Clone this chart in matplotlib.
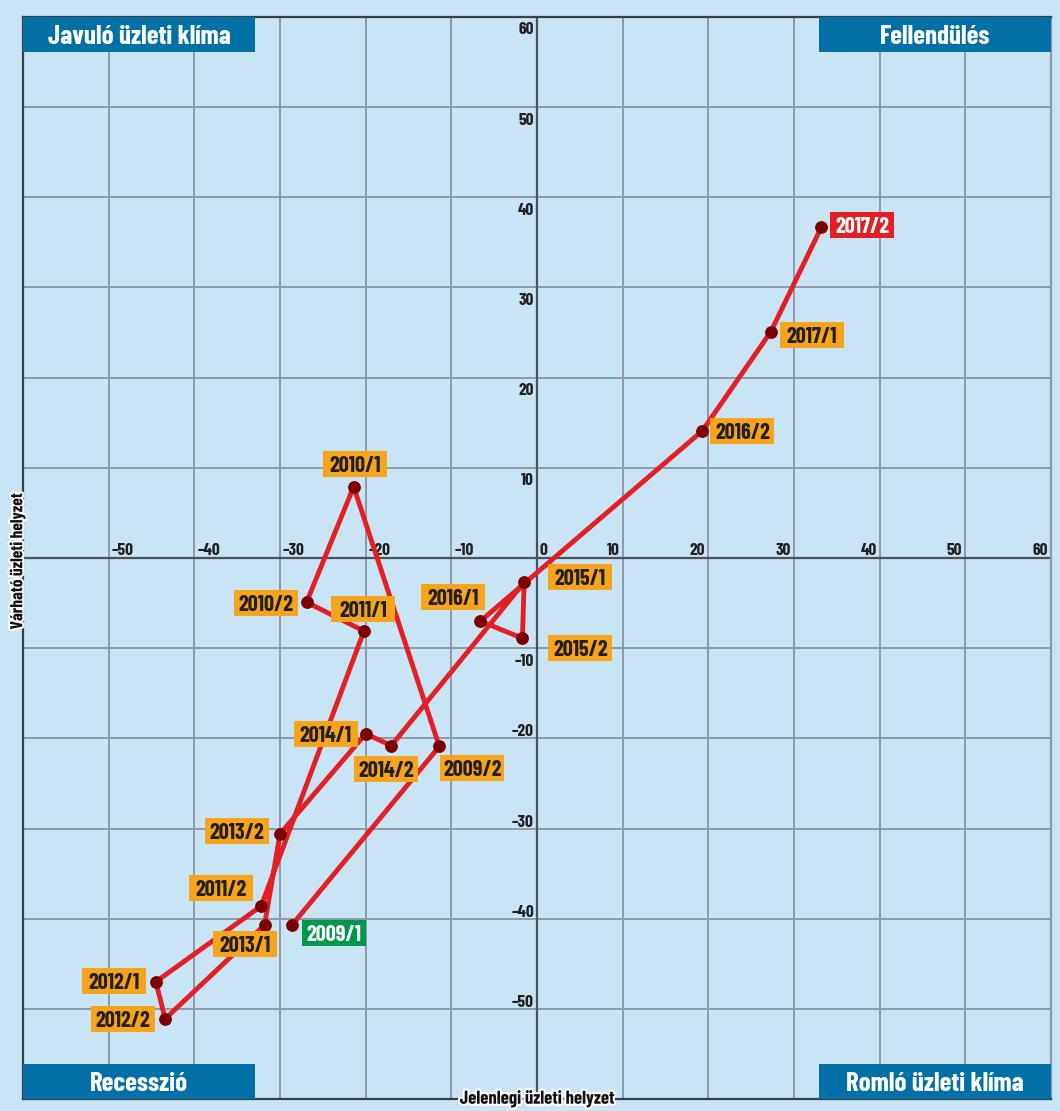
import matplotlib
matplotlib.use("Agg")
import os
import matplotlib.pyplot as plt
from matplotlib import font_manager
from matplotlib.ft2font import LOAD_NO_HINTING
from matplotlib.patches import Rectangle
from matplotlib.transforms import Affine2D
import matplotlib.patheffects as pe

# ---- data ----
periods = ['2009/1', '2009/2', '2010/1', '2010/2', '2011/1', '2011/2',
           '2012/1', '2012/2', '2013/1', '2013/2', '2014/1', '2014/2',
           '2015/1', '2015/2', '2016/1', '2016/2', '2017/1', '2017/2']
current = [-28.6, -11.4, -21.4, -26.9, -20.2, -32.2, -44.5, -43.4, -31.8,
           -30.0, -20.0, -17.0, -1.5, -1.7, -6.6, 19.3, 27.3, 33.2]
expected = [-40.7, -20.9, 7.9, -4.9, -8.1, -38.6, -47.0, -51.1, -40.7,
            -30.6, -19.5, -20.8, -2.7, -8.9, -7.0, 14.1, 25.1, 36.7]
ticks = [-50, -40, -30, -20, -10, 0, 10, 20, 30, 40, 50, 60]
yticks = [-50, -40, -30, -20, -10, 10, 20, 30, 40, 50, 60]
quadrants = ['Javuló üzleti klíma', 'Fellendülés', 'Recesszió', 'Romló üzleti klíma']
xlabel = 'Jelenlegi üzleti helyzet'
ylabel = 'Várható üzleti helyzet'

# label box centre offsets from the point (pixels, y up)
offsets = [(42, -8), (33, -22), (1, 23), (-41, -1), (-1, 22), (-40, 18),
           (-42, 1), (-42, 0), (-20, -19), (-43, 3), (-40, 0), (-5, -23),
           (56, 5), (58, -10), (-27, 24), (40, 0), (41, -3), (41, 2)]


# ---- font: a bold condensed grotesque ----
def digit_height(fname):
    ft = font_manager.get_font(fname)
    ft.set_size(100, 72)
    g0 = ft.load_char(ord('0'), flags=LOAD_NO_HINTING)
    return g0.height / 64.0 / 100.0


PREF = ['Barlow Condensed', 'Roboto Condensed', 'Saira Condensed',
        'TeX Gyre Heros Cn', 'Archivo Narrow', 'Liberation Sans Narrow']
FILE = None
for name in PREF:
    for f in font_manager.fontManager.ttflist:
        fn = os.path.basename(f.fname).lower()
        if f.name != name or 'italic' in fn or 'oblique' in fn:
            continue
        if f.weight in (700, 'bold'):
            FILE = f.fname
            break
    if FILE:
        break
if FILE:
    FP = font_manager.FontProperties(fname=FILE)
    DH = digit_height(FILE)
else:
    FP = font_manager.FontProperties(family='DejaVu Sans', weight='bold',
                                     stretch='condensed')
    DH = 0.73


def fp(digit_px):
    """Font properties sized so that digit height = digit_px pixels."""
    p = FP.copy()
    p.set_size(digit_px / DH * 0.72)
    return p


BG = '#c8e4f5'
BLUE = '#0070a6'
ORANGE = '#f6a41c'
RED = '#e31e24'
DARKRED = '#7d0000'
GREEN = '#00984a'
GRID = '#8c9ba6'
INK = '#231f20'

fig = plt.figure(figsize=(10.6, 11.11), dpi=100, facecolor=BG)
ax = fig.add_axes([0.0217, 0.0108, 0.9698, 0.9739])
ax.set_facecolor(BG)
ax.set_xlim(-60, 60)
ax.set_ylim(-60, 60)

for v in range(-60, 61, 10):
    if v == 0:
        continue
    ax.axvline(v, color=GRID, lw=1.4, zorder=1)
    ax.axhline(v, color=GRID, lw=1.4, zorder=1)
ax.axvline(0, color='#4a5158', lw=1.6, zorder=1.5)
ax.axhline(0, color='#4a5158', lw=1.6, zorder=1.5)

ax.set_xticks([])
ax.set_yticks([])
for s in ax.spines.values():
    s.set_color('#3a3f44')
    s.set_linewidth(1.6)
ax.spines['right'].set_color(GRID)

TK = 12.5
for t in ticks:
    lab = f'{t}'.replace('-', '–')
    if t <= 0:
        ax.annotate(lab, (t, 0), xytext=(3, 3), textcoords='offset pixels',
                    ha='left', va='baseline', fontproperties=fp(TK), color=INK, zorder=3)
    else:
        ax.annotate(lab, (t, 0), xytext=(-3, 3), textcoords='offset pixels',
                    ha='right', va='baseline', fontproperties=fp(TK), color=INK, zorder=3)
for t in yticks:
    lab = f'{t}'.replace('-', '–')
    if t > 0 or t == -10:
        dy = -5 - TK
    else:
        dy = 2
    ax.annotate(lab, (0, t), xytext=(-3, dy), textcoords='offset pixels',
                ha='right', va='baseline', fontproperties=fp(TK), color=INK, zorder=3)

ax.plot(current, expected, color=RED, lw=3.5, zorder=4, solid_capstyle='round',
        solid_joinstyle='round')
ax.plot(current, expected, 'o', color=DARKRED, ms=8.2, zorder=5)

BOXW, BOXH, LAB = 64, 26, 16
fig.canvas.draw()
for i, (p, x, y) in enumerate(zip(periods, current, expected)):
    if i == 0:
        fc, tc = GREEN, 'white'
    elif i == len(periods) - 1:
        fc, tc = RED, 'white'
    else:
        fc, tc = ORANGE, INK
    px, py = ax.transData.transform((x, y))
    dx, dy = offsets[i]
    tr = Affine2D().translate(px + dx, py + dy)
    ax.add_artist(Rectangle((-BOXW / 2, -BOXH / 2), BOXW, BOXH, transform=tr,
                            fc=fc, ec='none', zorder=6, clip_on=False))
    ax.annotate(p, (x, y), xytext=(dx, dy - LAB / 2), textcoords='offset pixels',
                ha='center', va='baseline', fontproperties=fp(LAB),
                color=tc, zorder=7, annotation_clip=False)

bw, bh = 0.2257, 0.0323
QH = 19.5
boxes = [(0.0, 1 - bh), (1 - bw, 1 - bh), (0.0, 0.0), (1 - bw, 0.0)]
for q, (bx, by) in zip(quadrants, boxes):
    ax.add_patch(Rectangle((bx, by), bw, bh, transform=ax.transAxes,
                           fc=BLUE, ec='none', zorder=8))
    ax.annotate(q, (bx + bw / 2, by + bh / 2), xycoords='axes fraction',
                xytext=(0, -QH / 2), textcoords='offset pixels', ha='center',
                va='baseline', color='white', fontproperties=fp(QH), zorder=9)

halo = [pe.withStroke(linewidth=3, foreground='white')]
ax.text(0.5, 0.0, xlabel, transform=ax.transAxes, ha='center', va='center',
        fontproperties=fp(13.5), color='#111111', zorder=10, path_effects=halo)
fig.text(0.0165, 0.0108 + 0.9739 / 2 - 0.003, ylabel, rotation=90,
         ha='center', va='center', fontproperties=fp(12.5),
         color='#111111', path_effects=halo)

fig.savefig('out.png', dpi=100, facecolor=BG)
